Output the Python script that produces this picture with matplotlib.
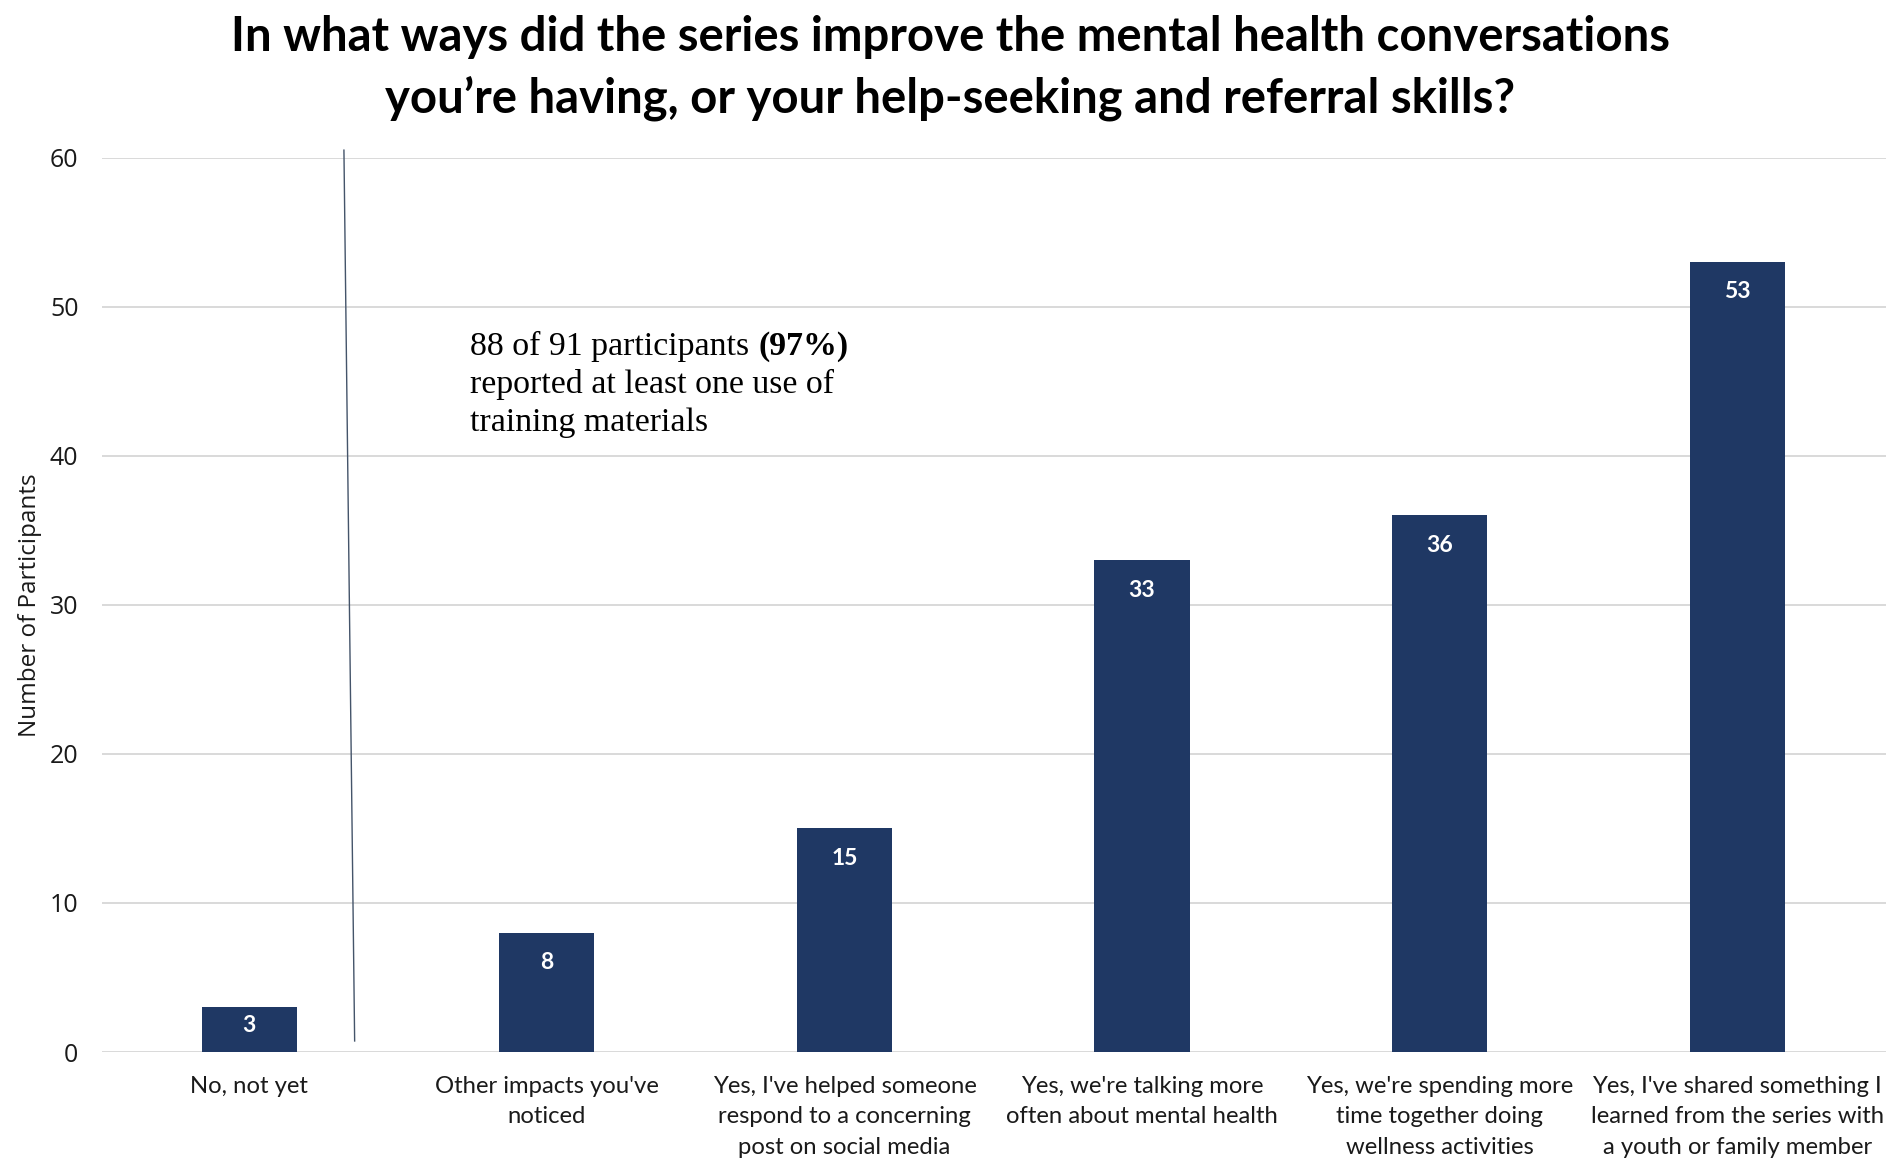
import numpy as np
import matplotlib.pyplot as plt

categories = ["No, not yet",
              "Other impacts you've\nnoticed",
              "Yes, I've helped someone\nrespond to a concerning\npost on social media",
              "Yes, we're talking more\noften about mental health",
              "Yes, we're spending more\ntime together doing\nwellness activities",
              "Yes, I've shared something I\nlearned from the series with\na youth or family member"]
counts = [3, 8, 15, 33, 36, 53]
y_ticks = [0, 10, 20, 30, 40, 50, 60]

title = ("In what ways did the series improve the mental health conversations\n"
         "you\u2019re having, or your help-seeking and referral skills?")
note_first = "88 of 91 participants "
note_bold = "(97%)"
note_rest = ["reported at least one use of", "training materials"]

bar_color = '#1f3864'
grid_color = '#d9d9d9'

fig = plt.figure(figsize=(19.01, 11.74), dpi=100)
ax = fig.add_axes([102 / 1901, 1 - 1052 / 1174, 1784 / 1901, (1052 - 157.6) / 1174])

x = np.arange(len(categories))
ax.bar(x, counts, width=0.32, color=bar_color, zorder=3)

ax.set_xlim(-0.495, len(categories) - 0.5)
ax.set_ylim(0, 60)
ax.set_yticks(y_ticks)
ax.set_yticklabels([str(t) for t in y_ticks], family='Open Sans', fontsize=18, color='#1a1a1a')
ax.set_xticks(x)
ax.set_xticklabels(categories, family='Lato', fontsize=17.2, color='#1a1a1a', linespacing=1.57)
ax.tick_params(axis='both', length=0)
ax.tick_params(axis='x', pad=17)
ax.tick_params(axis='y', pad=17)
ax.yaxis.grid(True, color=grid_color, lw=1.4, zorder=0)
for s in ax.spines.values():
    s.set_visible(False)
ax.set_ylabel("Number of Participants", family='Open Sans', fontsize=17.5, color='#1a1a1a')
ax.yaxis.set_label_coords((42 - 102) / 1784, 0.5)

# value labels inside the bars, near the top
px_per_unit = (1052 - 157.6) / 60
for xi, v in zip(x, counts):
    yl = max(v - 30 / px_per_unit, v * 0.6)
    ax.text(xi, yl, str(v), ha='center', va='center', color='white',
            family='Lato', fontweight='bold', fontsize=16.5, zorder=4)

# thin divider line
ax.plot([0.318, 0.354], [60.5, 0.74], color='#44546a', lw=1.0, clip_on=False, zorder=4)

# note text
base_x = 0.743
base_y = 46.75
fs_note = 24.4
t1 = ax.text(base_x, base_y, note_first, family='Liberation Serif', fontsize=fs_note,
             ha='left', va='baseline', color='black')
fig.canvas.draw()
w = t1.get_window_extent().width
ax.annotate(note_bold, xy=(base_x, base_y), xytext=(w, 0), textcoords='offset pixels',
            family='Liberation Serif', fontsize=fs_note, fontweight='bold',
            ha='left', va='baseline', color='black')
for i, line in enumerate(note_rest):
    ax.text(base_x, base_y - (i + 1) * 38 / px_per_unit, line, family='Liberation Serif',
            fontsize=fs_note, ha='left', va='baseline', color='black')

fig.text(0.5, 1 - 68 / 1174, title, ha='center', va='center', family='Lato',
         fontweight='bold', fontsize=34, linespacing=1.42, color='black')

fig.savefig('out.png', dpi=100, facecolor='white')
